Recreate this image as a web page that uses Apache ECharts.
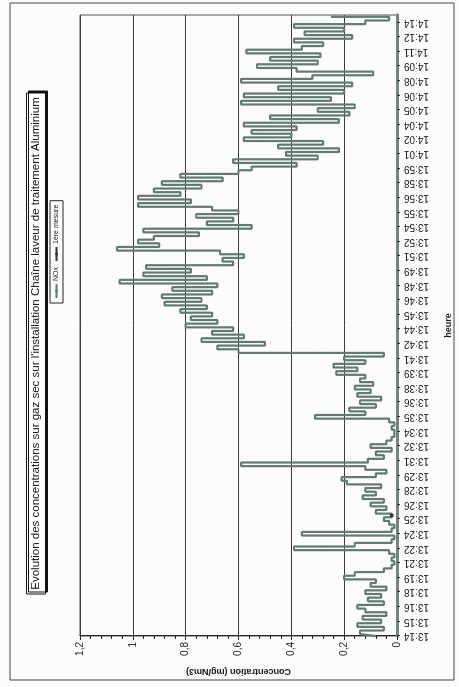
<!DOCTYPE html>
<html>
<head>
<meta charset="utf-8">
<script src="https://cdn.jsdelivr.net/npm/echarts@6/dist/echarts.min.js"></script>
<style>
    html, body { margin: 0; padding: 0; background: #fcfcfa; overflow: hidden; }
    #container {
        position: absolute; left: 0; top: 0;
        width: 687px; height: 459px;
        transform-origin: 0 0;
        transform: translateY(687px) rotate(-90deg);
    }
</style>
</head>
<body>
<div id="container"></div>
<script>
    // tick labels shown along the time axis (one every 4 samples)
    var timeLabels = ['13:14', '13:15', '13:16', '13:18', '13:19', '13:21', '13:22', '13:24', '13:25', '13:26',
        '13:28', '13:29', '13:31', '13:32', '13:34', '13:35', '13:36', '13:38', '13:39', '13:41',
        '13:42', '13:44', '13:45', '13:46', '13:48', '13:49', '13:51', '13:52', '13:54', '13:55',
        '13:56', '13:58', '13:59', '14:01', '14:02', '14:04', '14:05', '14:06', '14:08', '14:09',
        '14:11', '14:12', '14:14'];
    var step = 4;

    // NOx concentration (mg/Nm3)
    var nox = [
        0.08, 0.14, 0.05, 0.15,  0.06, 0.13, 0.04, 0.12,  0.15, 0.05, 0.11, 0.06,  0.12, 0.04, 0.10, 0.08,
        0.20, 0.16, 0.05, 0.02,  0.01, 0.02, 0.01, 0.03,  0.39, 0.16, 0.02, 0.01,  0.36, 0.02, 0.01, 0.03,
        0.05, 0.02, 0.08, 0.04,  0.10, 0.05, 0.13, 0.08,  0.12, 0.06, 0.19, 0.21,  0.08, 0.04, 0.12, 0.59,
        0.11, 0.05, 0.08, 0.02,  0.10, 0.04, 0.02, 0.01,  0.01, 0.02, 0.01, 0.03,  0.31, 0.12, 0.18, 0.08,
        0.14, 0.06, 0.15, 0.10,  0.16, 0.09, 0.14, 0.12,  0.23, 0.15, 0.24, 0.12,  0.20, 0.05, 0.60, 0.68,
        0.50, 0.74, 0.58, 0.70,  0.62, 0.80, 0.68, 0.78,  0.70, 0.82, 0.72, 0.88,  0.74, 0.89, 0.70, 0.85,
        0.68, 1.05, 0.72, 0.96,  0.78, 0.95, 0.62, 0.66,  0.58, 0.67, 1.06, 0.90,  0.98, 0.92, 0.75, 0.96,
        0.55, 0.72, 0.62, 0.76,  0.60, 0.70, 0.98, 0.78,  0.98, 0.82, 0.92, 0.74,  0.89, 0.66, 0.82, 0.60,
        0.55, 0.38, 0.62, 0.30,  0.42, 0.22, 0.45, 0.28,  0.58, 0.40, 0.55, 0.38,  0.58, 0.22, 0.48, 0.18,
        0.30, 0.16, 0.59, 0.25,  0.58, 0.20, 0.45, 0.17,  0.59, 0.32, 0.09, 0.38,  0.53, 0.30, 0.48, 0.29,
        0.57, 0.36, 0.28, 0.39,  0.17, 0.35, 0.20, 0.39,  0.12, 0.03, 0.25
    ];

    // first measurement marker
    var firstIndex = 33;
    var firstValue = 0.02;

    var dom = document.getElementById('container');
    var myChart = echarts.init(dom);

    var categories = nox.map(function (v, i) {
        var k = i / step;
        return (i % step === 0 && k < timeLabels.length) ? timeLabels[k] : '';
    });
    var firstSeries = nox.map(function (v, i) {
        return i === firstIndex ? firstValue : null;
    });

    var option = {
        backgroundColor: '#fcfcfa',
        textStyle: { fontFamily: 'Liberation Sans, Arial, sans-serif' },
        title: {
            text: "Evolution des concentrations sur gaz sec sur l'installation Chaîne laveur de traitement Aluminium",
            left: 'center',
            top: 26,
            padding: [4, 5],
            backgroundColor: '#fff',
            borderColor: '#111',
            borderWidth: 1,
            shadowColor: '#111',
            shadowOffsetX: 2,
            shadowOffsetY: 2,
            textStyle: { fontSize: 11.5, fontWeight: 'normal', color: '#111' }
        },
        legend: {
            left: 384,
            top: 50,
            padding: [3, 4],
            borderColor: '#222',
            borderWidth: 1,
            itemWidth: 14,
            itemHeight: 4,
            itemGap: 5,
            textStyle: { fontSize: 7, color: '#222', padding: [0, 0, 0, -2] },
            data: ['NOx', '1ère mesure']
        },
        graphic: [{
            type: 'rect',
            shape: { x: 7, y: 10, width: 677, height: 444 },
            style: { fill: 'none', stroke: '#444', lineWidth: 1 }
        }],
        grid: {
            left: 51,
            right: 15,
            top: 80,
            bottom: 62,
            show: true,
            borderColor: '#555',
            borderWidth: 1
        },
        xAxis: {
            type: 'category',
            data: categories,
            boundaryGap: false,
            name: 'heure',
            nameLocation: 'middle',
            nameGap: 47,
            nameTextStyle: { fontSize: 9, fontWeight: 'bold', color: '#222' },
            axisLine: { lineStyle: { color: '#74877f', width: 3 } },
            axisTick: {
                length: 3,
                lineStyle: { color: '#333' },
                interval: function (index) { return index % step === 0 && index / step < timeLabels.length; }
            },
            axisLabel: { interval: 0, rotate: 90, fontSize: 10, color: '#222', margin: 7 },
            splitLine: { show: false }
        },
        yAxis: {
            type: 'value',
            min: 0,
            max: 1.2,
            interval: 0.2,
            name: 'Concentration (mg/Nm3)',
            nameLocation: 'middle',
            nameGap: 28,
            nameTextStyle: { fontSize: 9, fontWeight: 'bold', color: '#222' },
            axisLine: { show: true, lineStyle: { color: '#223', width: 1 } },
            axisTick: { show: true, length: 4, lineStyle: { color: '#223' } },
            minorTick: { show: true, splitNumber: 5, length: 3, lineStyle: { color: '#223' } },
            axisLabel: {
                fontSize: 10, color: '#222', margin: 6,
                formatter: function (v) { return String(Math.round(v * 10) / 10).replace('.', ','); }
            },
            splitLine: { lineStyle: { color: '#3a3a3a', width: 1 } }
        },
        series: [{
            name: 'NOx',
            type: 'line',
            data: nox,
            step: 'middle',
            symbol: 'none',
            lineStyle: { color: '#627a70', width: 2.2 },
            itemStyle: { color: '#627a70' }
        }, {
            name: '1ère mesure',
            type: 'line',
            data: firstSeries,
            symbol: 'circle',
            symbolSize: 4,
            lineStyle: { color: '#333', width: 1 },
            itemStyle: { color: '#333' }
        }]
    };

    myChart.setOption(option);
</script>
</body>
</html>
